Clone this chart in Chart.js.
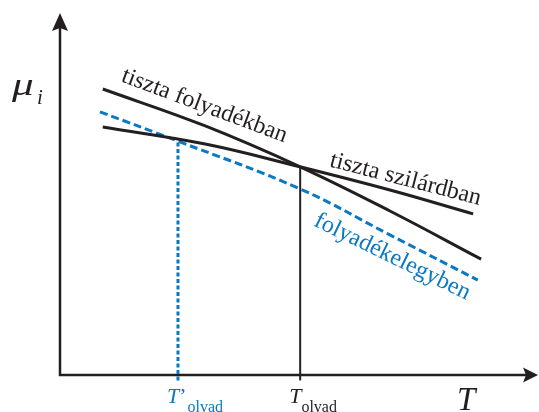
<!DOCTYPE html>
<html lang="hu">
<head>
<meta charset="utf-8">
<title>Kémiai potenciál</title>
<script src="https://cdn.jsdelivr.net/npm/chart.js@4.4.1/dist/chart.umd.min.js"></script>
<style>
    html, body { margin: 0; padding: 0; background: #fff; }
    #muChart { display: block; }
</style>
</head>
<body>
<canvas id="muChart" width="539" height="412"></canvas>
<script>
// Kémiai potenciál (mu_i) a hőmérséklet (T) függvényében
const folyadekT = [0.91, 3.09, 5.11, 7.02, 8.96];
const folyadekMu = [7.90, 6.88, 5.75, 4.53, 3.20];

const szilardT = [0.91, 3.09, 5.11, 7.02, 8.79];
const szilardMu = [6.85, 6.38, 5.75, 5.11, 4.45];

const elegyT = [0.85, 2.51, 5.11, 7.02, 8.89];
const elegyMu = [7.27, 6.46, 5.14, 3.87, 2.62];

// olvadáspontok: tiszta anyag és elegy
const olvadT = 5.11;
const olvadMu = 5.75;
const olvadElegyT = 2.51;
const olvadElegyMu = 6.46;

const FEKETE = '#231f20';
const KEK = '#0a78c2';
const BETU = '"Liberation Serif", "Times New Roman", serif';

const pontok = (xs, ys) => xs.map((v, i) => ({ x: v, y: ys[i] }));

// Tengelyek nyilakkal
const tengelyek = {
    id: 'tengelyek',
    beforeDatasetsDraw(chart) {
        const { ctx, scales: { x, y } } = chart;
        const x0 = x.getPixelForValue(0);
        const y0 = y.getPixelForValue(0);
        const xVeg = x.getPixelForValue(x.max);
        const yVeg = y.getPixelForValue(y.max);

        ctx.save();
        ctx.strokeStyle = FEKETE;
        ctx.fillStyle = FEKETE;
        ctx.lineWidth = 2.5;
        ctx.beginPath();
        ctx.moveTo(x0, y0 + 1.2);
        ctx.lineTo(x0, yVeg + 12);
        ctx.moveTo(x0 - 1.2, y0);
        ctx.lineTo(xVeg - 10, y0);
        ctx.stroke();

        ctx.beginPath();
        ctx.moveTo(x0, yVeg);
        ctx.lineTo(x0 - 8, yVeg + 18);
        ctx.lineTo(x0, yVeg + 15);
        ctx.lineTo(x0 + 8, yVeg + 18);
        ctx.closePath();
        ctx.moveTo(xVeg, y0);
        ctx.lineTo(xVeg - 15, y0 - 7.5);
        ctx.lineTo(xVeg - 12, y0);
        ctx.lineTo(xVeg - 15, y0 + 7.5);
        ctx.closePath();
        ctx.fill();
        ctx.restore();
    }
};

// Feliratok: görbék neve, tengelycímek, olvadáspontok
const feliratok = {
    id: 'feliratok',
    afterDatasetsDraw(chart) {
        const { ctx, scales: { x, y } } = chart;

        function ferde(szoveg, tx, ty, szog, szin) {
            ctx.save();
            ctx.translate(x.getPixelForValue(tx), y.getPixelForValue(ty));
            ctx.rotate(szog * Math.PI / 180);
            ctx.font = '24px ' + BETU;
            ctx.fillStyle = szin;
            ctx.textBaseline = 'alphabetic';
            ctx.fillText(szoveg, 0, 0);
            ctx.restore();
        }

        ferde('tiszta folyadékban', 1.28, 8.12, 20.5, FEKETE);
        ferde('tiszta szilárdban', 5.72, 5.77, 14.5, FEKETE);
        ferde('folyadékelegyben', 5.38, 4.14, 26, KEK);

        ctx.save();
        ctx.textBaseline = 'alphabetic';
        const x0 = x.getPixelForValue(0);
        const y0 = y.getPixelForValue(0);

        // mu_i (a mu kicsit szélesebbre húzva)
        ctx.fillStyle = FEKETE;
        ctx.save();
        ctx.translate(x0 - 48, 95);
        ctx.scale(1.35, 1);
        ctx.font = 'italic 32px ' + BETU;
        ctx.fillText('\u03bc', 0, 0);
        ctx.restore();
        ctx.font = 'italic 21px ' + BETU;
        ctx.fillText('i', x0 - 23, 104);

        // T
        ctx.font = 'italic 33px ' + BETU;
        ctx.fillText('T', 457, y0 + 35);

        function olvadCimke(px, vesszo, szin) {
            ctx.fillStyle = szin;
            ctx.font = 'italic 22px ' + BETU;
            let cx = px - 11;
            ctx.fillText('T', cx, y0 + 28);
            cx += ctx.measureText('T').width;
            if (vesszo) {
                ctx.font = '22px ' + BETU;
                ctx.fillText('\u2019', cx, y0 + 28);
                cx += ctx.measureText('\u2019').width;
            } else {
                cx -= 1;
            }
            ctx.font = '16px ' + BETU;
            ctx.fillText('olvad', cx + 1, y0 + 37);
        }
        olvadCimke(x.getPixelForValue(olvadElegyT), true, KEK);
        olvadCimke(x.getPixelForValue(olvadT), false, FEKETE);
        ctx.restore();
    }
};

const ctxMu = document.getElementById('muChart').getContext('2d');
const muChart = new Chart(ctxMu, {
    type: 'scatter',
    data: {
        datasets: [
            {
                label: 'tiszta folyadékban',
                data: pontok(folyadekT, folyadekMu),
                showLine: true,
                borderColor: FEKETE,
                borderWidth: 3,
                tension: 0.4,
                pointRadius: 0
            },
            {
                label: 'tiszta szilárdban',
                data: pontok(szilardT, szilardMu),
                showLine: true,
                borderColor: FEKETE,
                borderWidth: 3,
                tension: 0.4,
                pointRadius: 0
            },
            {
                label: 'folyadékelegyben',
                data: pontok(elegyT, elegyMu),
                showLine: true,
                borderColor: KEK,
                borderWidth: 3,
                borderDash: [8, 4],
                tension: 0.4,
                pointRadius: 0
            },
            {
                label: "T'olvad",
                data: [{ x: olvadElegyT, y: -0.15 }, { x: olvadElegyT, y: olvadElegyMu }],
                showLine: true,
                borderColor: KEK,
                borderWidth: 3,
                borderDash: [4, 2.5],
                pointRadius: 0,
                clip: false
            },
            {
                label: 'Tolvad',
                data: [{ x: olvadT, y: -0.15 }, { x: olvadT, y: olvadMu }],
                showLine: true,
                borderColor: FEKETE,
                borderWidth: 2,
                pointRadius: 0,
                clip: false
            }
        ]
    },
    options: {
        responsive: false,
        animation: false,
        layout: {
            padding: { left: 60, right: 1, top: 13, bottom: 37 }
        },
        scales: {
            x: { type: 'linear', min: 0, max: 10.17, display: false },
            y: { type: 'linear', min: 0, max: 10, display: false }
        },
        plugins: {
            legend: { display: false },
            tooltip: { enabled: false }
        }
    },
    plugins: [tengelyek, feliratok]
});
</script>
</body>
</html>
